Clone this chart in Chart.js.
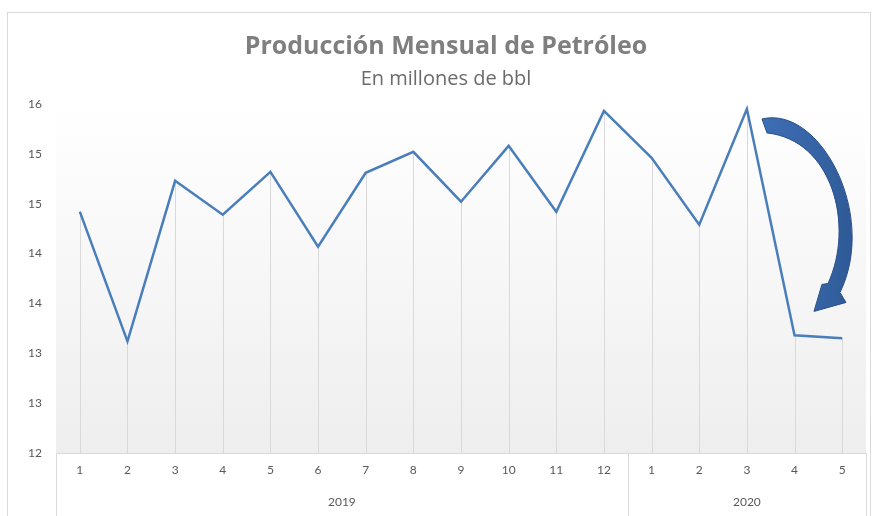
<!DOCTYPE html>
<html>
<head>
<meta charset="utf-8">
<script src="https://cdn.jsdelivr.net/npm/chart.js@4/dist/chart.umd.min.js"></script>
<style>
  html, body { margin: 0; padding: 0; background: #ffffff; }
  #wrap { width: 876px; height: 516px; }
</style>
</head>
<body>
<div id="wrap"><canvas id="oilChart" width="876" height="516"></canvas></div>
<script>
const months = ['1', '2', '3', '4', '5', '6', '7', '8', '9', '10', '11', '12', '1', '2', '3', '4', '5'];
const years = ['2019', '2020'];
const yearCounts = [12, 5];
const production = [14.42, 13.12, 14.73, 14.39, 14.82, 14.07, 14.81, 15.02, 14.52, 15.08, 14.42, 15.43, 14.96, 14.29, 15.45, 13.18, 13.15];

const colorLine = '#4a7ebb';
const colorText = '#595959';
const colorGrid = '#d9d9d9';
const fontFamily = 'Lato, "Open Sans", sans-serif';
const titleFamily = '"Open Sans", Lato, sans-serif';

// arrow outline, as fractions of the chart area
const arrowShape = {
    tailTop: [0.8716, 0.0429],
    outerC1: [0.9432, 0.0029],
    outerC2: [1.0148, 0.3171],
    outerEnd: [0.9679, 0.54],
    headRight: [0.9753, 0.5686],
    tip: [0.9358, 0.5943],
    headLeft: [0.9456, 0.5171],
    innerEnd: [0.9531, 0.5143],
    innerC1: [0.9864, 0.3457],
    innerC2: [0.9580, 0.1029],
    tailBottom: [0.8778, 0.0829]
};

const backdrop = {
    id: 'backdrop',
    beforeDraw: (chart) => {
        const {ctx, chartArea} = chart;
        ctx.save();
        // outer frame
        ctx.strokeStyle = colorGrid;
        ctx.lineWidth = 1;
        ctx.strokeRect(7.5, 12.5, 863, 520);
        // plot area gradient
        const g = ctx.createLinearGradient(0, chartArea.top, 0, chartArea.bottom);
        g.addColorStop(0, '#ffffff');
        g.addColorStop(1, '#eeeeee');
        ctx.fillStyle = g;
        ctx.fillRect(chartArea.left, chartArea.top, chartArea.right - chartArea.left, chartArea.bottom - chartArea.top);
        ctx.restore();
    },
    beforeDatasetsDraw: (chart) => {
        // drop lines from each point to the axis
        const {ctx, chartArea} = chart;
        const meta = chart.getDatasetMeta(0);
        ctx.save();
        ctx.strokeStyle = colorGrid;
        ctx.lineWidth = 1;
        for (let pt of meta.data) {
            const x = Math.round(pt.x) + 0.5;
            ctx.beginPath();
            ctx.moveTo(x, pt.y);
            ctx.lineTo(x, chartArea.bottom);
            ctx.stroke();
        }
        ctx.restore();
    },
    afterDraw: (chart) => {
        const {ctx, chartArea} = chart;
        const xs = chart.scales.x;
        const bottom = chart.height;
        ctx.save();
        // year group separators and labels
        ctx.strokeStyle = colorGrid;
        ctx.lineWidth = 1;
        let start = 0;
        let edges = [chartArea.left];
        for (let i = 0; i < years.length; i++) {
            const end = start + yearCounts[i] - 1;
            const left = start === 0 ? chartArea.left : (xs.getPixelForValue(start - 1) + xs.getPixelForValue(start)) / 2;
            const right = end === months.length - 1 ? chartArea.right : (xs.getPixelForValue(end) + xs.getPixelForValue(end + 1)) / 2;
            edges.push(right);
            ctx.fillStyle = colorText;
            ctx.font = '12px ' + fontFamily;
            ctx.textAlign = 'center';
            ctx.textBaseline = 'middle';
            ctx.fillText(years[i], (left + right) / 2, 502);
            start = end + 1;
        }
        for (let e of edges) {
            const x = Math.round(e) + 0.5;
            ctx.beginPath();
            ctx.moveTo(x, chartArea.bottom);
            ctx.lineTo(x, bottom);
            ctx.stroke();
        }

        // curved arrow
        const w = chartArea.right - chartArea.left;
        const h = chartArea.bottom - chartArea.top;
        const p = (k) => [chartArea.left + arrowShape[k][0] * w, chartArea.top + arrowShape[k][1] * h];
        ctx.beginPath();
        ctx.moveTo(...p('tailTop'));
        ctx.bezierCurveTo(...p('outerC1'), ...p('outerC2'), ...p('outerEnd'));
        ctx.lineTo(...p('headRight'));
        ctx.lineTo(...p('tip'));
        ctx.lineTo(...p('headLeft'));
        ctx.lineTo(...p('innerEnd'));
        ctx.bezierCurveTo(...p('innerC1'), ...p('innerC2'), ...p('tailBottom'));
        ctx.closePath();
        const ag = ctx.createLinearGradient(p('tailTop')[0], 0, p('outerC2')[0], 0);
        ag.addColorStop(0, '#3f6eb6');
        ag.addColorStop(0.6, '#33609f');
        ag.addColorStop(1, '#2a4f8a');
        ctx.fillStyle = ag;
        ctx.fill();
        ctx.strokeStyle = '#2b4f88';
        ctx.lineWidth = 1;
        ctx.stroke();
        ctx.restore();
    }
};

let oilChart = new Chart(document.getElementById('oilChart').getContext('2d'), {
    type: 'line',
    data: {
        labels: months,
        datasets: [{
            label: 'Producción',
            data: production,
            borderColor: colorLine,
            borderWidth: 2.5,
            pointRadius: 0,
            tension: 0,
            fill: false
        }]
    },
    options: {
        responsive: false,
        animation: false,
        layout: {
            padding: { top: 0, right: 10, bottom: 0, left: 26 }
        },
        scales: {
            x: {
                offset: true,
                grid: { display: false, drawTicks: false },
                border: { display: true, color: colorGrid },
                ticks: {
                    color: colorText,
                    font: { size: 12, family: fontFamily },
                    padding: 10,
                    maxRotation: 0,
                    autoSkip: false
                },
                afterFit: (scale) => { scale.height = 63; }
            },
            y: {
                min: 12,
                max: 15.5,
                grid: { display: false, drawTicks: false },
                border: { display: false },
                ticks: {
                    stepSize: 0.5,
                    color: colorText,
                    font: { size: 12, family: fontFamily },
                    padding: 14,
                    callback: (v) => Math.round(v)
                },
                afterFit: (scale) => { scale.width = 30; }
            }
        },
        plugins: {
            legend: { display: false },
            tooltip: { enabled: false },
            title: {
                display: true,
                text: 'Producción Mensual de Petróleo',
                color: '#7f7f7f',
                font: { size: 25, weight: 'bold', family: titleFamily },
                padding: { top: 31.5, bottom: 0 }
            },
            subtitle: {
                display: true,
                text: 'En millones de bbl',
                color: '#6b6b6b',
                font: { size: 20, family: titleFamily },
                padding: { top: 5.5, bottom: 13 }
            }
        }
    },
    plugins: [backdrop]
});
</script>
</body>
</html>
